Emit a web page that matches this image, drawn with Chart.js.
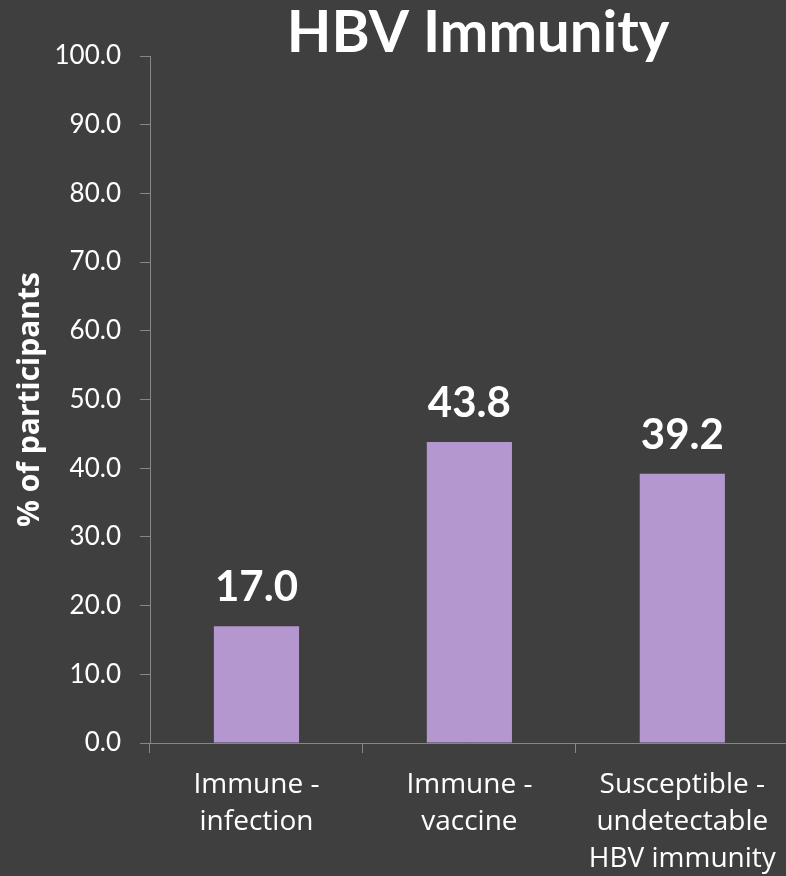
<!DOCTYPE html>
<html>
<head>
<meta charset="utf-8">
<script src="https://cdn.jsdelivr.net/npm/chart.js@4/dist/chart.umd.min.js"></script>
<style>
  html, body { margin: 0; padding: 0; background: #3f3f3f; overflow: hidden; }
  #wrap { width: 790px; height: 876px; }
</style>
</head>
<body>
<div id="wrap"><canvas id="c"></canvas></div>
<script>
const chartTitle = 'HBV Immunity';
const categories = [
  ['Immune -', 'infection'],
  ['Immune -', 'vaccine'],
  ['Susceptible -', 'undetectable', 'HBV immunity']
];
const percentParticipants = [17.0, 43.8, 39.2];
const yTicks = { min: 0, max: 100, step: 10 };

const AXIS = '#878787';
const TEXT = '#ffffff';
const BAR = '#b597cf';

// Chart heading, placed over the plot
const headingPlugin = {
  id: 'heading',
  afterDraw(chart) {
    const ctx = chart.ctx;
    ctx.save();
    ctx.font = 'bold 58px Lato';
    ctx.fillStyle = TEXT;
    ctx.textAlign = 'center';
    ctx.textBaseline = 'alphabetic';
    ctx.fillText(chartTitle, 478, 52);
    ctx.restore();
  }
};

// Value printed above each bar
const valueLabels = {
  id: 'valueLabels',
  afterDatasetsDraw(chart) {
    const ctx = chart.ctx;
    const meta = chart.getDatasetMeta(0);
    ctx.save();
    ctx.font = 'bold 42px Lato';
    ctx.fillStyle = TEXT;
    ctx.textAlign = 'center';
    ctx.textBaseline = 'alphabetic';
    meta.data.forEach((bar, i) => {
      ctx.fillText(percentParticipants[i].toFixed(1), bar.x, bar.y - 25);
    });
    ctx.restore();
  }
};

new Chart(document.getElementById('c'), {
  type: 'bar',
  data: {
    labels: categories,
    datasets: [{
      data: percentParticipants,
      backgroundColor: BAR,
      borderWidth: 0,
      barPercentage: 0.4,
      categoryPercentage: 1.0
    }]
  },
  options: {
    responsive: true,
    maintainAspectRatio: false,
    animation: false,
    layout: { padding: { top: 56, right: 1, left: 0, bottom: 0 } },
    plugins: {
      legend: { display: false },
      tooltip: { enabled: false }
    },
    scales: {
      x: {
        border: { color: AXIS, width: 1 },
        grid: { display: true, drawOnChartArea: false, drawTicks: true, tickLength: 10, color: AXIS, offset: true },
        ticks: {
          color: TEXT,
          font: { family: 'Open Sans', size: 28, lineHeight: 1.32 },
          padding: 14,
          maxRotation: 0,
          autoSkip: false
        },
        afterFit(scale) { scale.height = 133; }
      },
      y: {
        min: yTicks.min,
        max: yTicks.max,
        border: { color: AXIS, width: 1 },
        grid: { display: true, drawOnChartArea: false, drawTicks: true, tickLength: 10, color: AXIS },
        ticks: {
          stepSize: yTicks.step,
          color: TEXT,
          font: { family: 'Lato', size: 26 },
          padding: 19,
          callback: v => Number(v).toFixed(1)
        },
        title: {
          display: true,
          text: '% of participants',
          color: TEXT,
          font: { family: 'Open Sans', size: 30, weight: 'bold' },
          padding: { top: 12, bottom: 0 }
        },
        afterFit(scale) { scale.width = 150; }
      }
    }
  },
  plugins: [headingPlugin, valueLabels]
});
</script>
</body>
</html>
